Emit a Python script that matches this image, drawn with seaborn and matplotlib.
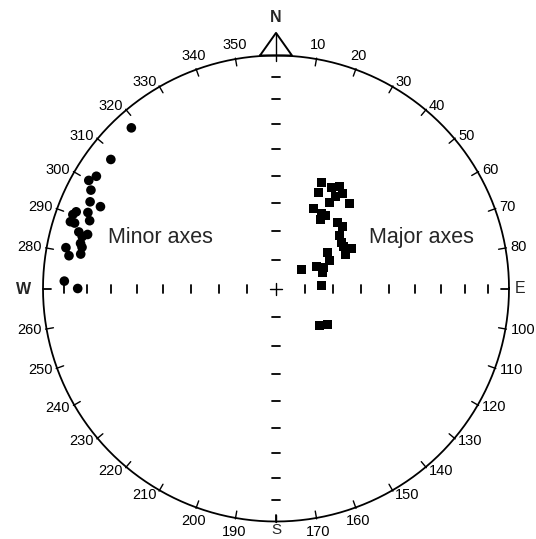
import numpy as np
import pandas as pd
import matplotlib
matplotlib.use("Agg")
import matplotlib.pyplot as plt
import seaborn as sns

# ---- data: trend (deg) and plunge (deg) of the axes ----
minor_trend = [318, 308, 302, 300, 298, 295, 295, 291, 290, 292, 290, 288, 288, 286, 286, 285, 283, 281, 282, 279, 280, 272, 270]
minor_plunge = [8, 11, 10, 8, 11, 13, 18, 9, 8, 14, 16, 8, 10, 13, 17, 15, 15, 9, 16, 11, 16, 10, 16]
major_trend = [23, 24, 29, 32, 35, 41, 33, 32, 25, 31, 34, 33, 43, 47, 50, 55, 58, 62, 64, 55, 62, 62, 66, 71, 53, 86, 130, 125]
major_plunge = [49, 53, 49, 47, 49, 50, 51, 54, 59, 59, 59, 61, 58, 58, 61, 62, 62, 60, 63, 68, 69, 74, 72, 73, 79, 74, 70, 68]
azimuth_ticks = list(range(0, 360, 10))
plunge_ticks = [80, 70, 60, 50, 40, 30, 20, 10]
cardinals = {0: "N", 90: "E", 180: "S", 270: "W"}
group_labels = ["Minor axes", "Major axes"]


def project(trend, plunge):
    t = np.radians(np.asarray(trend, float))
    p = np.radians(np.asarray(plunge, float))
    r = np.sqrt(2) * np.sin((np.pi / 2 - p) / 2)
    return r * np.sin(t), r * np.cos(t)


def pr(plunge):
    return np.sqrt(2) * np.sin(np.radians(90 - plunge) / 2)


sns.set_style("white")
plt.rcParams["font.family"] = ["Liberation Sans", "DejaVu Sans"]

W, H = 536, 539
cx, cy, R = 276, 288.5, 233.0
fig = plt.figure(figsize=(W / 100, H / 100), dpi=100)
ax = fig.add_axes([0, 0, 1, 1])

k = "black"
lw = 1.3
# primitive circle
th = np.linspace(0, 2 * np.pi, 721)
ax.plot(np.cos(th), np.sin(th), color=k, lw=lw)

# azimuth ticks and labels
for az in azimuth_ticks:
    s, c = np.sin(np.radians(az)), np.cos(np.radians(az))
    if az in (90, 270):
        ax.plot([0.965 * s, s], [0, 0], color=k, lw=lw)
    elif az == 0:
        pass
    else:
        ax.plot([0.97 * s, 1.004 * s], [0.97 * c, 1.004 * c], color=k, lw=1.0)
    if az in cardinals:
        continue
    if abs(s) > 0.45:
        gap = 5 / R
        ha = "left" if s > 0 else "right"
        va = "center"
    else:
        gap = 7 / R
        ha = "center"
        va = "bottom" if c > 0 else "top"
    px, py = (1 + gap) * s, (1 + gap) * c
    ax.text(px, py, str(az), ha=ha, va=va, fontsize=10.5, color=k)

# north arrow (triangle) and cardinal labels
ax.plot([-16 / R, 0, 16 / R, -16 / R], [1.0, 1.097, 1.0, 1.0], color=k, lw=1.4)
ax.plot([0, 0], [1.097, 0.975], color=k, lw=1.0)
ax.text(0, 1.13, "N", ha="center", va="bottom", fontsize=11.5, fontweight="bold")
ax.text(1.047, 0, "E", ha="center", va="center", fontsize=11.5)
ax.text(-1.082, -0.005, "W", ha="center", va="center", fontsize=11.5, fontweight="bold")
ax.text(0, (cy - 530) / R, "S", ha="center", va="center", fontsize=11)
ax.plot([0, 0], [-0.97, -1.0], color=k, lw=lw)

# plunge ticks on the diameters
hl = 4 / R
for p in plunge_ticks:
    r = pr(p)
    for sgn in (-1, 1):
        ax.plot([sgn * r, sgn * r], [-hl, hl], color=k, lw=1.3)
        ax.plot([-hl, hl], [sgn * r, sgn * r], color=k, lw=1.3)
cl = 6 / R
ax.plot([-cl, cl], [0, 0], color=k, lw=1.0)
ax.plot([0, 0], [-cl, cl], color=k, lw=1.0)

# data points
mx, my = project(minor_trend, minor_plunge)
Mx, My = project(major_trend, major_plunge)
df_min = pd.DataFrame({"x": mx, "y": my})
df_maj = pd.DataFrame({"x": Mx, "y": My})
sns.scatterplot(data=df_min, x="x", y="y", marker="o", s=48, color=k, edgecolor="none", ax=ax, legend=False)
sns.scatterplot(data=df_maj, x="x", y="y", marker="s", s=42, color=k, edgecolor="none", ax=ax, legend=False)
ax.set_xlim(-cx / R, (W - cx) / R)
ax.set_ylim((cy - H) / R, cy / R)
ax.axis("off")

ax.text((108 - cx) / R, (cy - 243) / R, group_labels[0], ha="left", va="baseline", fontsize=15.5)
ax.text((369 - cx) / R, (cy - 243) / R, group_labels[1], ha="left", va="baseline", fontsize=15.5)

fig.savefig("out.png", dpi=100)
